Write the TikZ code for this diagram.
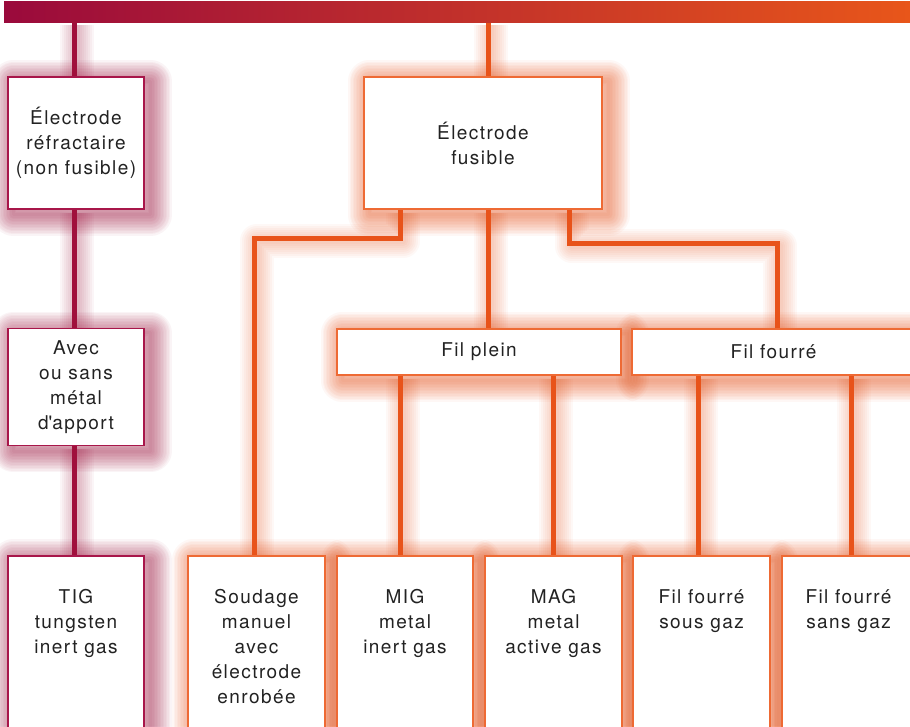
\documentclass[tikz,border=0pt]{standalone}
\usepackage{fontspec}
\setmainfont[LetterSpace=7.5]{TeX Gyre Heros}
\definecolor{crim}{HTML}{A0103C}
\definecolor{crimb}{HTML}{A8164A}
\definecolor{oran}{HTML}{E8531A}
\definecolor{oranb}{HTML}{EE6A34}
\definecolor{barL}{HTML}{9A0A3C}
\definecolor{barR}{HTML}{E8561A}
\definecolor{txt}{HTML}{222222}
\pgfdeclarelayer{glow}
\pgfdeclarelayer{lines}
\pgfsetlayers{glow,lines,main}
\tikzset{
  boxC/.style={draw=crimb, line width=1.2pt, fill=white, inner sep=0pt, align=center},
  boxO/.style={draw=oranb, line width=1.2pt, fill=white, inner sep=0pt, align=center},
  lbl/.style={inner sep=0pt, align=center, anchor=north},
  wire/.style={line width=5pt},
}
\newcommand\glowbox[2]{%
  \begin{pgfonlayer}{glow}
  \foreach \w in {3,6,...,42}{
    \draw[#2, line width=\w pt, draw opacity=0.045, line join=round,
      transform canvas={shift={(6,5)}}] (#1.north west) rectangle (#1.south east);
  }
  \end{pgfonlayer}}
\newcommand\conn[2]{%
  \begin{pgfonlayer}{glow}
  \foreach \w in {6,10,...,34}{
    \draw[#1, line width=\w pt, draw opacity=0.04, line join=round,
      transform canvas={shift={(3,3)}}] #2;
  }
  \end{pgfonlayer}
  \begin{pgfonlayer}{lines}
  \draw[#1, wire] #2;
  \end{pgfonlayer}}
\begin{document}
\begin{tikzpicture}[x=1pt, y=-1pt, font=\fontsize{19}{25}\selectfont, text=txt]
\useasboundingbox (0,0) rectangle (910,726);
\begin{pgfonlayer}{glow}
\fill[white] (0,0) rectangle (910,726);
\end{pgfonlayer}

% top bar
\node[inner sep=0pt, minimum width=906pt, minimum height=21pt, left color=barL, right color=barR] (bar) at (457,11.5) {};

% column x coordinates and junction heights
\coordinate (cL) at (74,0);
\coordinate (cF) at (488,0);
\coordinate (c1) at (400,0);
\coordinate (c2) at (254,0);
\coordinate (c3) at (569,0);
\coordinate (c4) at (777,0);
\coordinate (c5) at (553,0);
\coordinate (c6) at (698,0);
\coordinate (c7) at (851,0);
\coordinate (h1) at (0,238);
\coordinate (h2) at (0,243);

% boxes
\node[boxC, minimum width=136pt, minimum height=132pt] (b1) at (76,143) {Électrode\\réfractaire\\(non fusible)};
\node[boxC, minimum width=136pt, minimum height=117pt] (b2) at (76,387) {Avec\\ou sans\\métal\\d\textquotesingle apport};
\node[boxO, minimum width=238pt, minimum height=132pt] (fus) at (483,143) {Électrode\\fusible};
\node[boxO, minimum width=284pt, minimum height=46pt] (fp) at (479,352) {Fil plein};
\node[boxO, minimum width=283pt, minimum height=46pt] (ff) at (773.5,352) {Fil fourré};

\node[boxC, minimum width=136pt, minimum height=204pt] (tig) at (76,658) {};
\node[boxO, minimum width=137pt, minimum height=204pt] (sou) at (256.5,658) {};
\node[boxO, minimum width=136pt, minimum height=204pt] (mig) at (405,658) {};
\node[boxO, minimum width=137pt, minimum height=204pt] (mag) at (553.5,658) {};
\node[boxO, minimum width=137pt, minimum height=204pt] (ffs) at (701.5,658) {};
\node[boxO, minimum width=133pt, minimum height=204pt] (ffn) at (848.5,658) {};

\node[lbl] (tigT) at (76,589) {TIG\\tungsten\\inert gas};
\node[lbl] (souT) at (256.5,589) {Soudage\\manuel\\avec\\électrode\\enrobée};
\node[lbl] (migT) at (405,589) {MIG\\metal\\inert gas};
\node[lbl] (magT) at (553.5,589) {MAG\\metal\\active gas};
\node[lbl] (ffsT) at (701.5,589) {Fil fourré\\sous gaz};
\node[lbl] (ffnT) at (848.5,589) {Fil fourré\\sans gaz};

% glows
\foreach \n in {b1,b2,tig}{\glowbox{\n}{crim}}
\foreach \n in {fus,fp,ff,sou,mig,mag,ffs,ffn}{\glowbox{\n}{oran}}

% connectors
\conn{crim}{(bar.south -| cL) -- (b1.north -| cL)}
\conn{crim}{(b1.south -| cL) -- (b2.north -| cL)}
\conn{crim}{(b2.south -| cL) -- (tig.north -| cL)}
\conn{oran}{(bar.south -| cF) -- (fus.north -| cF)}
\conn{oran}{(fus.south -| c1) -- (c1 |- h1) -- (c2 |- h1) -- (sou.north -| c2)}
\conn{oran}{(fus.south -| cF) -- (fp.north -| cF)}
\conn{oran}{(fus.south -| c3) -- (c3 |- h2) -- (c4 |- h2) -- (ff.north -| c4)}
\conn{oran}{(fp.south -| c1) -- (mig.north -| c1)}
\conn{oran}{(fp.south -| c5) -- (mag.north -| c5)}
\conn{oran}{(ff.south -| c6) -- (ffs.north -| c6)}
\conn{oran}{(ff.south -| c7) -- (ffn.north -| c7)}
\end{tikzpicture}
\end{document}
